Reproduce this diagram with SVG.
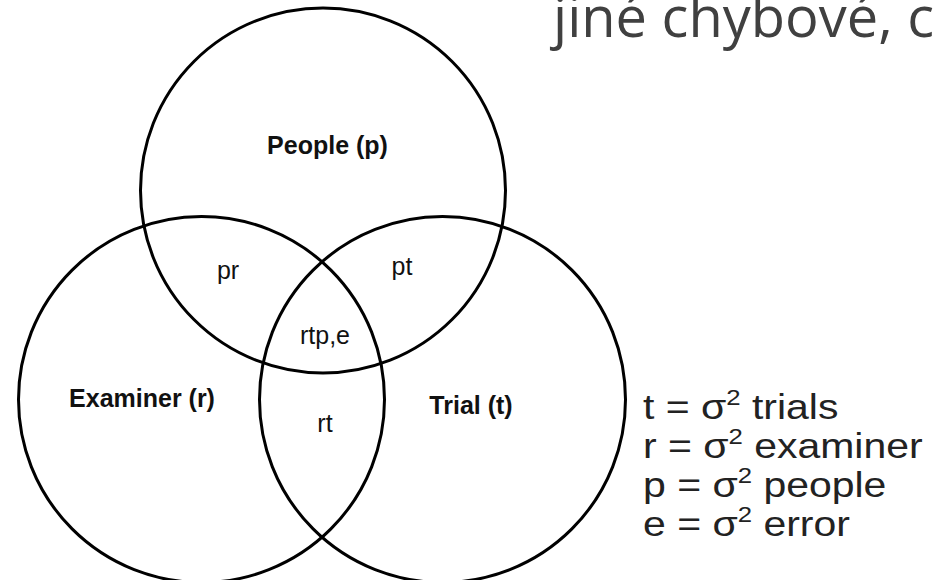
<svg xmlns="http://www.w3.org/2000/svg" width="933" height="580" viewBox="0 0 933 580">
<style>
.c{fill:none;stroke:#000;stroke-width:3}
.b{font-family:"Liberation Sans",Arial,sans-serif;font-weight:bold;font-size:25px;fill:#111;text-anchor:middle}
.r{font-family:"Liberation Sans",Arial,sans-serif;font-size:25px;fill:#111;text-anchor:middle}
.l{font-family:"Liberation Sans",Arial,sans-serif;font-size:35px;fill:#222}
.s{font-size:22px}
.t{font-family:"Open Sans","Noto Sans",sans-serif;font-size:56px;fill:#404040}
</style>
<rect width="933" height="580" fill="#fff"/>
<text class="t" x="553" y="37">jiné chybové, c</text>
<g id="people"><circle class="c" cx="323" cy="190.5" r="182.5"/><text class="b" x="327.5" y="154">People (p)</text></g>
<g id="examiner"><circle class="c" cx="201.5" cy="399.5" r="183"/><text class="b" x="142" y="407">Examiner (r)</text></g>
<g id="trial"><circle class="c" cx="442.5" cy="399.5" r="183"/><text class="b" x="471" y="414">Trial (t)</text></g>
<g id="pr"><text class="r" x="228" y="279">pr</text></g>
<g id="pt"><text class="r" x="402" y="275">pt</text></g>
<g id="rtpe"><text class="r" x="325" y="344">rtp,e</text></g>
<g id="rt"><text class="r" x="325" y="432">rt</text></g>
<g id="legend" transform="translate(643,0) scale(1.17,1)">
<text class="l" x="0" y="419">t = σ<tspan class="s" dy="-14">2</tspan><tspan dy="14"> trials</tspan></text>
<text class="l" x="0" y="458">r = σ<tspan class="s" dy="-14">2</tspan><tspan dy="14"> examiner</tspan></text>
<text class="l" x="0" y="497">p = σ<tspan class="s" dy="-14">2</tspan><tspan dy="14"> people</tspan></text>
<text class="l" x="0" y="536">e = σ<tspan class="s" dy="-14">2</tspan><tspan dy="14"> error</tspan></text>
</g>
</svg>
